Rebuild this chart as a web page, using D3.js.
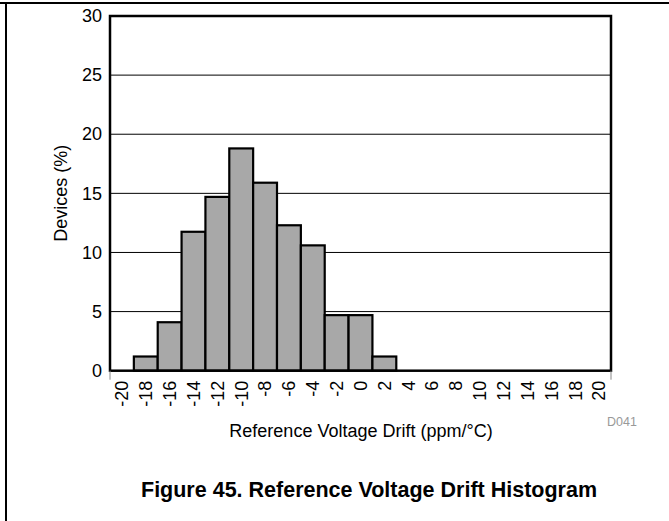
<!DOCTYPE html>
<html>
<head>
<meta charset="utf-8">
<script src="https://cdn.jsdelivr.net/npm/d3@7"></script>
<style>
  html, body { margin: 0; padding: 0; background: #fff; }
  svg { display: block; }
  text { font-family: "Liberation Sans", Arial, sans-serif; }
</style>
</head>
<body>
<svg id="chart" width="669" height="521"></svg>
<script>
const categories = ["-20","-18","-16","-14","-12","-10","-8","-6","-4","-2","0","2","4","6","8","10","12","14","16","18","20"];
const devices = [0, 1.2, 4.1, 11.75, 14.7, 18.8, 15.9, 12.3, 10.6, 4.7, 4.7, 1.2, 0, 0, 0, 0, 0, 0, 0, 0, 0];
const yTicks = [0, 5, 10, 15, 20, 25, 30];
const xTitle = "Reference Voltage Drift (ppm/°C)";
const yTitle = "Devices (%)";
const figTitle = "Figure 45. Reference Voltage Drift Histogram";
const figCode = "D041";

const svg = d3.select("#chart");
const W = 669, H = 521;
const m = { left: 110, right: 611, top: 16, bottom: 370.7 };
const FONT = "'Liberation Sans', Arial, sans-serif";

// page frame
svg.append("line").attr("x1", 0).attr("x2", W).attr("y1", 3).attr("y2", 3)
  .attr("stroke", "#000").attr("stroke-width", 2);
svg.append("line").attr("x1", 6).attr("x2", 6).attr("y1", 3).attr("y2", H)
  .attr("stroke", "#000").attr("stroke-width", 2);

const x = d3.scaleBand().domain(categories).range([m.left, m.right]).padding(0);
const y = d3.scaleLinear().domain([0, 30]).range([m.bottom, m.top]);

// gridlines
svg.append("g").selectAll("line").data(yTicks.filter(t => t > 0 && t < 30)).join("line")
  .attr("x1", m.left).attr("x2", m.right)
  .attr("y1", d => y(d)).attr("y2", d => y(d))
  .attr("stroke", "#000").attr("stroke-width", 1);

// bars
const data = categories.map((c, i) => ({ c, v: devices[i] }));
svg.append("g").selectAll("rect").data(data.filter(d => d.v > 0)).join("rect")
  .attr("x", d => x(d.c))
  .attr("width", x.bandwidth())
  .attr("y", d => y(d.v))
  .attr("height", d => y(0) - y(d.v))
  .attr("fill", "#a8a8a8")
  .attr("stroke", "#000")
  .attr("stroke-width", 2.2);

// frame of plot
svg.append("rect").attr("x", m.left).attr("y", m.top)
  .attr("width", m.right - m.left).attr("height", m.bottom - m.top)
  .attr("fill", "none").attr("stroke", "#000").attr("stroke-width", 2.5);

// Y axis
const yAxis = svg.append("g").attr("transform", `translate(${m.left},0)`)
  .call(d3.axisLeft(y).tickValues(yTicks).tickSize(0).tickPadding(8));
yAxis.select(".domain").remove();
yAxis.attr("font-size", 18).attr("font-family", FONT);
yAxis.selectAll("text").attr("fill", "#000");

// X axis
const xAxis = svg.append("g").attr("transform", `translate(0,${m.bottom})`)
  .call(d3.axisBottom(x).tickSize(0).tickPadding(0));
xAxis.select(".domain").remove();
xAxis.attr("font-size", 18).attr("font-family", FONT);
xAxis.selectAll("text")
  .attr("fill", "#000")
  .attr("text-anchor", "end")
  .attr("dy", "0.35em")
  .attr("transform", "translate(0,10) rotate(-90)")
  .attr("x", 0).attr("y", 0);
// small end ticks
svg.append("line").attr("x1", m.left).attr("x2", m.left).attr("y1", m.bottom).attr("y2", m.bottom + 9)
  .attr("stroke", "#888").attr("stroke-width", 1);
svg.append("line").attr("x1", m.right).attr("x2", m.right).attr("y1", m.bottom).attr("y2", m.bottom + 9)
  .attr("stroke", "#888").attr("stroke-width", 1);

// axis titles
svg.append("text").attr("x", 361).attr("y", 437).attr("text-anchor", "middle")
  .attr("font-size", 18).text(xTitle);
svg.append("text").attr("transform", `translate(67,${(m.top + m.bottom) / 2}) rotate(-90)`)
  .attr("text-anchor", "middle").attr("font-size", 18).text(yTitle);

svg.append("text").attr("x", 607).attr("y", 426).attr("font-size", 12.5).attr("fill", "#999").text(figCode);

svg.append("text").attr("x", 369).attr("y", 497).attr("text-anchor", "middle")
  .attr("font-size", 21.5).attr("font-weight", "bold").text(figTitle);
</script>
</body>
</html>
